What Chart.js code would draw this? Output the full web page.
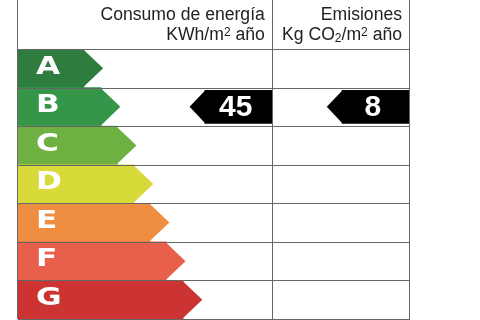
<!DOCTYPE html>
<html>
<head>
<meta charset="utf-8">
<script src="https://cdn.jsdelivr.net/npm/chart.js@4"></script>
<style>
  html, body { margin: 0; padding: 0; background: #fff; }
  #wrap { width: 480px; height: 320px; }
</style>
</head>
<body>
<div id="wrap"><canvas id="myChart" width="480" height="320"></canvas></div>
<script>
// rating scale
const ratings = ['A', 'B', 'C', 'D', 'E', 'F', 'G'];
const ratingColors = ['#2e7d3e', '#35964a', '#6fb043', '#d8da3a', '#ef8e40', '#e8604c', '#cc3333'];
const ratingReach = [16.8, 21.2, 25.3, 29.6, 33.7, 37.8, 42.1];

// table columns (x units 0..100)
const columnEdges = [0, 65, 100];
const columnTitles = [
    [[['Consumo de energía']], [['KWh/m'], ['2', 'sup'], [' año']]],
    [[['Emisiones']], [['Kg CO'], ['2', 'sub'], ['/m'], ['2', 'sup'], [' año']]],
];

// values of this property
const consumoValue = 45;
const emisionesValue = 8;
const consumoRating = 'B';
const emisionesRating = 'B';

const markerWidth = 17.4;

function markerData(rating, colIndex) {
    const end = columnEdges[colIndex + 1];
    return ratings.map((r) => (r === rating ? [end - markerWidth, end] : null));
}

function drawRich(ctx, segs, right, baseline) {
    const fonts = { n: '17.6px "Liberation Sans", Arial, sans-serif', sup: '12px "Liberation Sans", Arial, sans-serif', sub: '12px "Liberation Sans", Arial, sans-serif' };
    const shift = { n: 0, sup: -4, sub: 2 };
    let total = 0;
    segs.forEach((s) => {
        ctx.font = fonts[s[1] || 'n'];
        total += ctx.measureText(s[0]).width;
    });
    let x = right - total;
    ctx.textAlign = 'left';
    ctx.textBaseline = 'alphabetic';
    segs.forEach((s) => {
        const m = s[1] || 'n';
        ctx.font = fonts[m];
        ctx.fillText(s[0], x, baseline + shift[m]);
        x += ctx.measureText(s[0]).width;
    });
}

const labelPlugin = {
    id: 'labelTable',
    afterDatasetsDraw(chart) {
        const ctx = chart.ctx;
        const xs = chart.scales.x;
        const ys = chart.scales.y;
        const area = chart.chartArea;
        const rowH = ys.getPixelForValue(1) - ys.getPixelForValue(0);

        ctx.save();
        // arrow tips of rating bars
        chart.getDatasetMeta(0).data.forEach((bar, i) => {
            const top = bar.y - bar.height / 2;
            const bot = bar.y + bar.height / 2;
            ctx.fillStyle = ratingColors[i];
            ctx.beginPath();
            ctx.moveTo(bar.x - 1, top);
            ctx.lineTo(bar.x + bar.height / 2, bar.y);
            ctx.lineTo(bar.x - 1, bot);
            ctx.closePath();
            ctx.fill();
        });

        // rating letters
        ctx.fillStyle = '#fff';
        ctx.font = 'bold 24px "DejaVu Sans", sans-serif';
        ctx.textAlign = 'left';
        ctx.textBaseline = 'middle';
        ratings.forEach((r, i) => {
            const y = ys.getPixelForValue(i);
            ctx.save();
            ctx.translate(area.left + 18, y - 1);
            ctx.scale(1.3, 1);
            ctx.fillText(r, 0, 0);
            ctx.restore();
        });

        // value markers
        [[1, consumoValue], [2, emisionesValue]].forEach(([di, val]) => {
            chart.getDatasetMeta(di).data.forEach((bar, i) => {
                if (!chart.data.datasets[di].data[i]) return;
                const top = bar.y - bar.height / 2;
                const bot = bar.y + bar.height / 2;
                ctx.fillStyle = '#000';
                ctx.beginPath();
                ctx.moveTo(bar.base + 1, top);
                ctx.lineTo(bar.base - 15, bar.y);
                ctx.lineTo(bar.base + 1, bot);
                ctx.closePath();
                ctx.fill();
                ctx.fillStyle = '#fff';
                ctx.font = 'bold 30px "Liberation Sans", Arial, sans-serif';
                ctx.textAlign = 'center';
                ctx.textBaseline = 'middle';
                ctx.fillText(String(val), (bar.base + bar.x) / 2 - 3, bar.y + 1);
            });
        });

        // table lines
        ctx.strokeStyle = '#666';
        ctx.lineWidth = 1;
        ctx.beginPath();
        for (let i = 0; i <= ratings.length; i++) {
            const y = Math.round(ys.getPixelForValue(0) - rowH / 2 + i * rowH) + 0.5;
            ctx.moveTo(area.left, y);
            ctx.lineTo(area.right, y);
        }
        columnEdges.forEach((v) => {
            const x = Math.round(xs.getPixelForValue(v)) - 0.5;
            ctx.moveTo(x, 0);
            ctx.lineTo(x, area.bottom);
        });
        ctx.stroke();

        // column titles
        ctx.fillStyle = '#222';
        columnTitles.forEach((lines, c) => {
            const right = xs.getPixelForValue(columnEdges[c + 1]) - 8;
            drawRich(ctx, lines[0], right, 20);
            drawRich(ctx, lines[1], right, 40);
        });
        ctx.restore();
    },
};

const ctx = document.getElementById('myChart').getContext('2d');
new Chart(ctx, {
    type: 'bar',
    data: {
        labels: ratings,
        datasets: [
            {
                label: 'Calificación',
                data: ratingReach,
                backgroundColor: ratingColors,
                barPercentage: 1,
                categoryPercentage: 1,
                grouped: false,
            },
            {
                label: 'Consumo de energía',
                data: markerData(consumoRating, 0),
                backgroundColor: '#000',
                barPercentage: 0.88,
                categoryPercentage: 1,
                grouped: false,
            },
            {
                label: 'Emisiones',
                data: markerData(emisionesRating, 1),
                backgroundColor: '#000',
                barPercentage: 0.88,
                categoryPercentage: 1,
                grouped: false,
            },
        ],
    },
    options: {
        indexAxis: 'y',
        responsive: false,
        animation: false,
        layout: { padding: { left: 18, right: 70, top: 49, bottom: 1 } },
        plugins: { legend: { display: false }, tooltip: { enabled: false } },
        scales: {
            x: { type: 'linear', min: 0, max: 100, display: false },
            y: { display: false },
        },
    },
    plugins: [labelPlugin],
});
</script>
</body>
</html>
